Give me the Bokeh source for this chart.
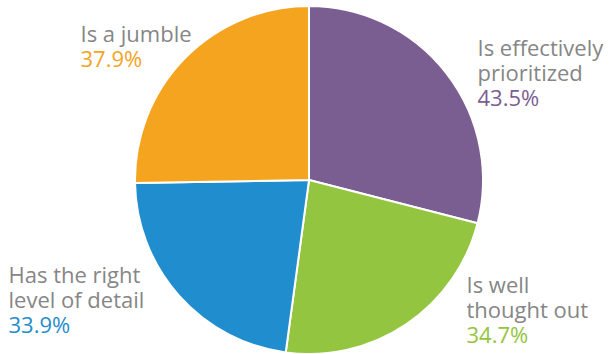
import math
from bokeh.plotting import figure
from bokeh.models import Range1d, ColumnDataSource
from bokeh.core.properties import value
from bokeh.embed import file_html
from bokeh.resources import INLINE

# Data
labels = ["Is effectively prioritized", "Is well thought out", "Has the right level of detail", "Is a jumble"]
values = [43.5, 34.7, 33.9, 37.9]
colors = ["#7B5E91", "#93C540", "#1F8DCE", "#F4A41F"]
label_lines = [["Is effectively", "prioritized"], ["Is well", "thought out"],
               ["Has the right", "level of detail"], ["Is a jumble"]]
pct_text = ["43.5%", "34.7%", "33.9%", "37.9%"]

W, H = 610, 354
cx, cy, R = 308.5, H - 179.5, 174.0

total = sum(values)
starts, ends = [], []
cum = 0.0
for v in values:
    starts.append(math.pi / 2 - cum / total * 2 * math.pi)
    cum += v
    ends.append(math.pi / 2 - cum / total * 2 * math.pi)

p = figure(width=W, height=H, x_range=Range1d(0, W), y_range=Range1d(0, H),
           output_backend="svg", toolbar_location=None, min_border=0)
p.axis.visible = False
p.grid.visible = False
p.outline_line_color = None
p.background_fill_color = "white"
p.border_fill_color = "white"

src = ColumnDataSource(dict(x=[cx] * 4, y=[cy] * 4, s=starts, e=ends, c=colors))
p.wedge(x="x", y="y", radius=R, start_angle="s", end_angle="e", direction="clock",
        fill_color="c", line_color="white", line_width=2, source=src)

# label positions (left x, first baseline in pixels from top)
pos = [(477, 46), (466, 283), (8, 273), (80, 32)]
step = 25.3
font = value("Open Sans")
for i in range(4):
    x0, b0 = pos[i]
    lines = label_lines[i]
    ys = [H - (b0 + k * step) for k in range(len(lines))]
    p.text(x=[x0] * len(lines), y=ys, text=lines, text_font=font, text_font_size="22px",
           text_color="#868686", text_baseline="alphabetic", text_align="left")
    p.text(x=[x0], y=[H - (b0 + len(lines) * step)], text=[pct_text[i]], text_font=font,
           text_font_size="22px", text_color=colors[i], text_baseline="alphabetic",
           text_align="left")

open("out.html", "w").write(file_html(p, INLINE))
